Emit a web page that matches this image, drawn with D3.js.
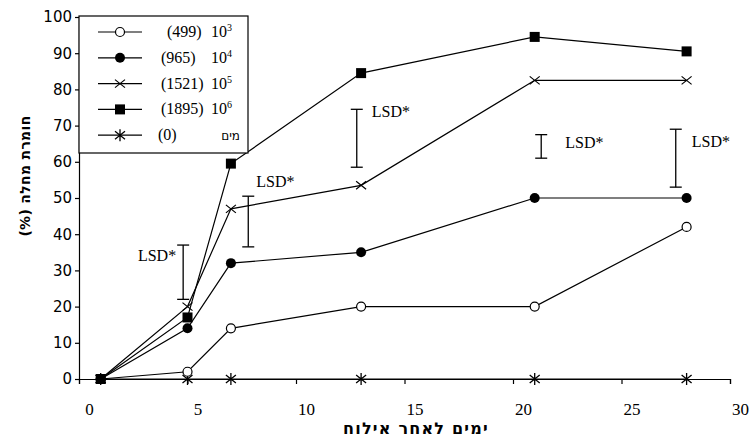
<!DOCTYPE html>
<html>
<head>
<meta charset="utf-8">
<script src="https://cdn.jsdelivr.net/npm/d3@7"></script>
<style>
  body { margin: 0; background: #fff; }
  svg { display: block; }
  .serif { font-family: "Liberation Serif", "Times New Roman", serif; }
  .x-axis .tick text { font-family: "Liberation Serif", "Times New Roman", serif; font-size: 17px; fill: #000; }
  .y-axis .tick text { font-family: "DejaVu Sans", sans-serif; font-size: 15px; fill: #000; }
</style>
</head>
<body>
<div id="chart"></div>
<script>
// days after inoculation
const days = [1, 5, 7, 13, 21, 28];

// disease severity (%) per inoculum concentration
const seriesNames = ['10³', '10⁴', '10⁵', '10⁶', 'מים'];
const seriesCounts = ['(499)', '(965)', '(1521)', '(1895)', '(0)'];
const seriesMarkers = ['openCircle', 'circle', 'cross', 'square', 'star'];
const vals1e3 = [0, 2, 14, 20, 20, 42];
const vals1e4 = [0, 14, 32, 35, 50, 50];
const vals1e5 = [0, 20, 47, 53.5, 82.5, 82.5];
const vals1e6 = [0, 17, 59.5, 84.5, 94.5, 90.5];
const valsWater = [0, 0, 0, 0, 0, 0];

// LSD bars
const lsdDay = [4.8, 7.8, 12.8, 21.3, 27.5];
const lsdLow = [22, 36.5, 58.5, 61, 53];
const lsdHigh = [37, 50.5, 74.5, 67.5, 69];

const xTicks = [0, 5, 10, 15, 20, 25, 30];
const yTicks = [0, 10, 20, 30, 40, 50, 60, 70, 80, 90, 100];

const allSeries = [vals1e3, vals1e4, vals1e5, vals1e6, valsWater];

const W = 751, H = 439;
const svg = d3.select('#chart').append('svg')
    .attr('width', W).attr('height', H);
svg.append('rect').attr('width', W).attr('height', H).attr('fill', '#fff');

const x = d3.scaleLinear().domain([0, 30]).range([79, 730]);
const y = d3.scaleLinear().domain([0, 100]).range([379, 17]);

// axes
const xAxis = d3.axisBottom(x).tickValues(xTicks).tickSize(5).tickSizeOuter(5);
const gx = svg.append('g').attr('class', 'x-axis')
    .attr('transform', `translate(0,${y(0)})`).call(xAxis);
gx.selectAll('text').attr('dx', 10).attr('dy', 28);

const yAxis = d3.axisLeft(y).tickValues(yTicks).tickSize(4).tickSizeOuter(4);
const gy = svg.append('g').attr('class', 'y-axis')
    .attr('transform', `translate(${x(0)},0)`).call(yAxis);
gy.selectAll('text').attr('x', -7);

svg.selectAll('.domain, .tick line').attr('stroke', '#000').attr('stroke-width', 1.2);

// axis titles
svg.append('text')
    .attr('x', 416).attr('y', 434)
    .attr('text-anchor', 'middle')
    .attr('direction', 'rtl')
    .attr('font-family', '"DejaVu Sans", sans-serif')
    .attr('font-weight', 'bold')
    .attr('font-size', 16)
    .attr('letter-spacing', 1.2)
    .text('ימים לאחר אילוח');

svg.append('text')
    .attr('transform', 'translate(30,176) rotate(-90)')
    .attr('text-anchor', 'middle')
    .attr('direction', 'rtl')
    .attr('font-family', '"DejaVu Sans", sans-serif')
    .attr('font-weight', 'bold')
    .attr('font-size', 14)
    .attr('letter-spacing', 0.3)
    .text('חומרת מחלה (%)');

// marker drawing
function drawMarker(g, type, cx, cy) {
    if (type === 'square') {
        g.append('rect').attr('x', cx - 5).attr('y', cy - 5).attr('width', 10).attr('height', 10).attr('fill', '#000');
    } else if (type === 'circle') {
        g.append('circle').attr('cx', cx).attr('cy', cy).attr('r', 5).attr('fill', '#000');
    } else if (type === 'openCircle') {
        g.append('circle').attr('cx', cx).attr('cy', cy).attr('r', 4.5).attr('fill', '#fff').attr('stroke', '#000').attr('stroke-width', 1.2);
    } else if (type === 'cross') {
        g.append('path').attr('d', `M${cx - 5},${cy - 4}L${cx + 5},${cy + 4}M${cx - 5},${cy + 4}L${cx + 5},${cy - 4}`)
            .attr('stroke', '#000').attr('stroke-width', 1.2);
    } else if (type === 'star') {
        g.append('path').attr('d', `M${cx - 5},${cy - 4}L${cx + 5},${cy + 4}M${cx - 5},${cy + 4}L${cx + 5},${cy - 4}M${cx},${cy - 6}L${cx},${cy + 6}`)
            .attr('stroke', '#000').attr('stroke-width', 1.3);
    }
}

const line = d3.line().x((d, i) => x(days[i])).y(d => y(d));

// series (water first, so the others sit on top)
const order = [4, 0, 1, 2, 3];
order.forEach(k => {
    const g = svg.append('g');
    g.append('path').datum(allSeries[k])
        .attr('d', line)
        .attr('fill', 'none')
        .attr('stroke', '#000')
        .attr('stroke-width', 1.2);
    allSeries[k].forEach((v, i) => drawMarker(g, seriesMarkers[k], x(days[i]), y(v)));
});

// LSD bars
const lsdLabelDx = [-7, 8, 15, 24, 16];
const lsdLabelDy = [16, -9, 8, 13, 18];
const lsdAnchor = ['end', 'start', 'start', 'start', 'start'];
lsdDay.forEach((d, i) => {
    const g = svg.append('g').attr('stroke', '#000').attr('stroke-width', 1.3);
    const cx = x(d), y1 = y(lsdHigh[i]), y2 = y(lsdLow[i]);
    g.append('line').attr('x1', cx).attr('x2', cx).attr('y1', y1).attr('y2', y2);
    g.append('line').attr('x1', cx - 6).attr('x2', cx + 6).attr('y1', y1).attr('y2', y1);
    g.append('line').attr('x1', cx - 6).attr('x2', cx + 6).attr('y1', y2).attr('y2', y2);
    svg.append('text').attr('class', 'serif')
        .attr('x', cx + lsdLabelDx[i]).attr('y', y1 + lsdLabelDy[i])
        .attr('text-anchor', lsdAnchor[i])
        .attr('font-size', 16)
        .text('LSD*');
});

// legend
const legend = svg.append('g');
legend.append('rect')
    .attr('x', x(0)).attr('y', y(100) - 1)
    .attr('width', 169).attr('height', 137)
    .attr('fill', '#fff').attr('stroke', '#000').attr('stroke-width', 1.2);

seriesNames.forEach((name, k) => {
    const ry = 32 + k * 25.8;
    legend.append('line').attr('x1', 98).attr('x2', 142).attr('y1', ry).attr('y2', ry)
        .attr('stroke', '#000').attr('stroke-width', 1.2);
    drawMarker(legend, seriesMarkers[k], 120, ry);
    legend.append('text').attr('class', 'serif')
        .attr('x', k === 0 ? 167 : (k === 4 ? 158 : 161)).attr('y', ry + 5)
        .attr('font-size', 16)
        .text(seriesCounts[k]);
    if (k < 4) {
        const t = legend.append('text').attr('class', 'serif')
            .attr('x', 211).attr('y', ry + 5).attr('font-size', 16);
        t.append('tspan').text('10');
        t.append('tspan').attr('font-size', 10).attr('dy', -6).text(['3', '4', '5', '6'][k]);
    } else {
        legend.append('text')
            .attr('x', 240).attr('y', ry + 5)
            .attr('text-anchor', 'end')
            .attr('font-family', '"DejaVu Sans", sans-serif')
            .attr('font-size', 12)
            .text(name);
    }
});
</script>
</body>
</html>
